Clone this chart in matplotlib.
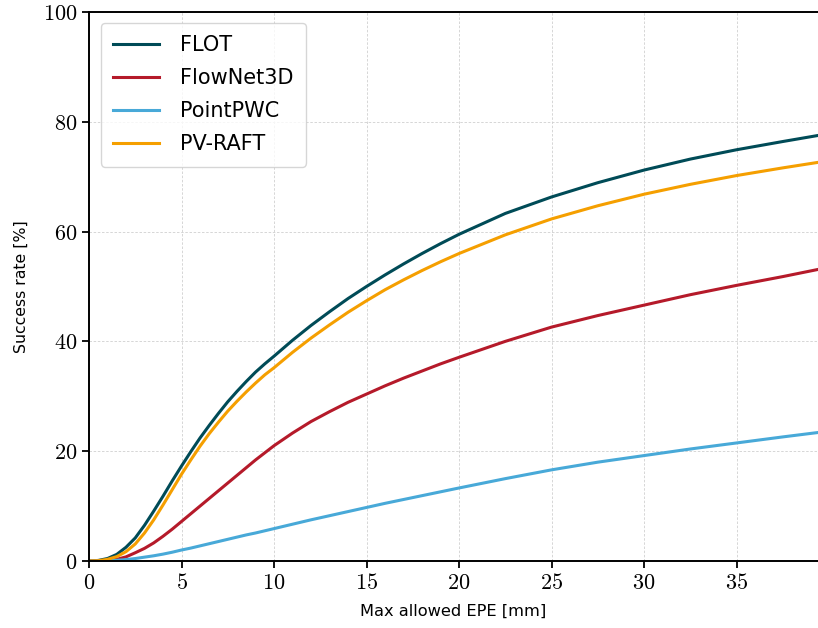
import matplotlib
matplotlib.use("Agg")
import matplotlib.pyplot as plt

plt.rcParams['mathtext.fontset'] = 'cm'

# Max allowed EPE [mm] sample positions
epe = [0, 0.5, 1, 1.5, 2, 2.5, 3, 3.5, 4, 4.5, 5, 5.5, 6, 6.5, 7, 7.5, 8, 8.5,
       9, 9.5, 10, 11, 12, 13, 14, 15, 16, 17, 18, 19, 20, 22.5, 25, 27.5,
       30, 32.5, 35, 37.5, 39.4]

# Success rate [%] per method
flot = [0, 0.1, 0.45, 1.2, 2.5, 4.2, 6.5, 9.1, 11.8, 14.6, 17.3, 19.9, 22.4,
        24.7, 26.9, 29.0, 30.9, 32.7, 34.4, 35.9, 37.3, 40.2, 42.9, 45.4,
        47.8, 50.0, 52.1, 54.1, 56.0, 57.8, 59.5, 63.3, 66.3, 68.9, 71.2,
        73.2, 74.9, 76.4, 77.5]
flownet3d = [0, 0.01, 0.08, 0.3, 0.75, 1.5, 2.3, 3.3, 4.5, 5.8, 7.2, 8.6,
             10.0, 11.4, 12.8, 14.2, 15.6, 17.0, 18.4, 19.7, 21.0, 23.3, 25.4,
             27.2, 28.9, 30.4, 31.9, 33.3, 34.6, 35.9, 37.1, 40.0, 42.6, 44.7,
             46.6, 48.5, 50.2, 51.8, 53.1]
pointpwc = [0, 0.01, 0.05, 0.13, 0.25, 0.45, 0.7, 0.95, 1.25, 1.6, 2.0, 2.35,
            2.75, 3.15, 3.55, 3.95, 4.35, 4.75, 5.1, 5.5, 5.9, 6.7, 7.5, 8.25,
            9.0, 9.75, 10.5, 11.2, 11.9, 12.6, 13.3, 15.0, 16.6, 18.0, 19.2,
            20.4, 21.5, 22.6, 23.4]
pvraft = [0, 0.05, 0.3, 0.8, 1.7, 3.1, 5.1, 7.5, 10.2, 13.0, 15.8, 18.4, 20.9,
          23.2, 25.3, 27.3, 29.1, 30.8, 32.4, 33.9, 35.2, 38.0, 40.6, 43.0,
          45.3, 47.4, 49.4, 51.2, 52.9, 54.5, 56.0, 59.4, 62.3, 64.7, 66.8,
          68.6, 70.2, 71.6, 72.6]

series = [("FLOT", flot, "#004b57"),
          ("FlowNet3D", flownet3d, "#b51a2a"),
          ("PointPWC", pointpwc, "#48a9d8"),
          ("PV-RAFT", pvraft, "#f59f00")]

xticks = [0, 5, 10, 15, 20, 25, 30, 35]
yticks = [0, 20, 40, 60, 80, 100]

fig = plt.figure(figsize=(8.18, 6.28), dpi=100)
ax = fig.add_axes([0.1088, 0.1067, 0.8912, 0.8743])

for name, vals, col in series:
    ax.plot(epe, vals, color=col, lw=2.2, label=name)

ax.set_xlim(0, 39.4)
ax.set_ylim(0, 100)
ax.set_xticks(xticks)
ax.set_yticks(yticks)
ax.set_xticklabels([f"${t}$" for t in xticks], fontsize=16)
ax.set_yticklabels([f"${t}$" for t in yticks], fontsize=16)
ax.tick_params(length=5, width=1.3)

ax.grid(True, ls=(0, (3, 2)), lw=0.6, color="#d0d0d0")
ax.set_axisbelow(True)
ax.spines['right'].set_visible(False)
for s in ['left', 'bottom', 'top']:
    ax.spines[s].set_linewidth(1.4)

ax.set_xlabel("Max allowed EPE [mm]", fontsize=11.7, labelpad=8)
ax.set_ylabel("Success rate [%]", fontsize=11.3, labelpad=10)

leg = ax.legend(loc="upper left", fontsize=15, handlelength=2.2,
                borderpad=0.6, labelspacing=0.62, handletextpad=1.0,
                bbox_to_anchor=(0.002, 0.999), fancybox=True)
leg.get_frame().set_edgecolor("#cccccc")

fig.savefig("out.png", dpi=100)
